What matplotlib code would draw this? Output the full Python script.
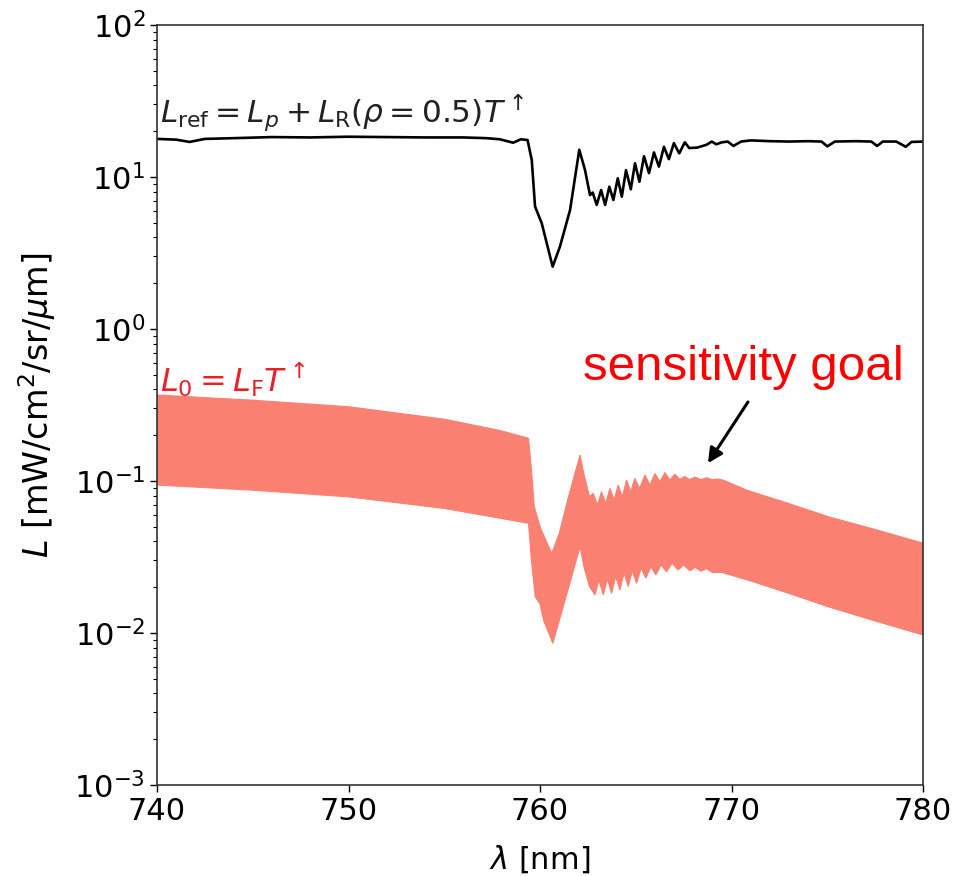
import matplotlib
matplotlib.use("Agg")
import matplotlib.pyplot as plt
import numpy as np

# ---- black line: L_ref ----
wl_ref = [740, 741, 741.7, 742.5, 744, 746, 748, 750, 752, 754, 756, 757.2, 757.9,
          758.6, 759.0, 759.35, 759.57, 759.74, 760.09, 760.66, 761.04, 761.57,
          762.05, 762.35, 762.61, 762.75, 762.96, 763.19, 763.40, 763.62, 763.83,
          764.06, 764.27, 764.49, 764.74, 764.96, 765.19, 765.43, 765.69, 765.95,
          766.21, 766.47, 766.73, 766.99, 767.27, 767.56, 767.79, 768.2, 768.7,
          768.97, 769.2, 769.5, 769.8, 770.1, 770.5, 771.0, 772, 773, 774, 774.7,
          775.0, 775.4, 776.5, 777.3, 777.6, 777.9, 778.6, 779.1, 779.4, 780]
L_ref = [17.8, 17.6, 17.0, 17.8, 18.0, 18.3, 18.2, 18.4, 18.3, 18.2, 18.2, 18.0, 17.7,
         16.8, 17.7, 17.5, 12.9, 6.4, 4.96, 2.57, 3.48, 6.07,
         15.1, 11.1, 7.6, 7.9, 6.55, 8.2, 6.55, 8.63, 7.06,
         9.8, 7.42, 11.1, 8.3, 12.3, 9.3, 13.7, 10.6, 14.5,
         11.7, 15.8, 13.1, 16.7, 14.3, 16.9, 15.5, 15.6, 16.3,
         17.1, 16.4, 16.9, 17.1, 16.0, 17.1, 17.4, 17.2, 17.1, 17.2, 17.1,
         15.9, 17.1, 17.2, 17.1, 16.0, 17.1, 17.1, 15.8, 17.0, 17.1]

# ---- red band: L_0 upper / lower envelopes ----
wl_up = [740, 745, 750, 755, 757.9, 759.4, 759.55, 759.7, 760.0, 760.61, 761.0, 761.5,
         762.09, 762.3, 762.58, 762.78, 763.0, 763.21, 763.43, 763.65, 763.87, 764.08,
         764.30, 764.52, 764.73, 764.95, 765.2, 765.48, 765.74, 766.0, 766.26, 766.52,
         766.78, 767.04, 767.3, 767.56, 767.8, 768.1, 768.4, 768.7, 769.0, 769.3, 769.6,
         770.8, 773, 775.1, 777.5, 780]
L0_up = [0.368, 0.34, 0.308, 0.255, 0.215, 0.191, 0.12, 0.068, 0.05, 0.0334, 0.045, 0.08,
         0.148, 0.11, 0.079, 0.083, 0.0695, 0.085, 0.0713, 0.0895, 0.075, 0.094,
         0.0788, 0.1016, 0.085, 0.104, 0.0895, 0.1095, 0.094, 0.112, 0.099, 0.1135,
         0.1016, 0.1107, 0.1025, 0.107, 0.102, 0.106, 0.102, 0.105, 0.102, 0.103, 0.101,
         0.087, 0.071, 0.058, 0.048, 0.039]

wl_lo = [740, 745, 750, 755, 757.9, 759.4, 759.55, 759.75, 760.0, 760.2, 760.67, 761.0,
         761.5, 762.09, 762.3, 762.58, 762.87, 763.08, 763.30, 763.52, 763.74, 763.95,
         764.17, 764.39, 764.61, 764.82, 765.04, 765.28, 765.53, 765.79, 766.05, 766.32,
         766.60, 766.9, 767.21, 767.5, 767.82, 768.1, 768.4, 768.7, 769.0, 769.5,
         770.8, 773, 775.1, 777.5, 780]
L0_lo = [0.094, 0.087, 0.0786, 0.066, 0.0569, 0.0527, 0.03, 0.0173, 0.0155, 0.012, 0.00855, 0.012,
         0.02, 0.037, 0.027, 0.0202, 0.0178, 0.0223, 0.0178, 0.0226, 0.0182, 0.0235,
         0.0192, 0.0247, 0.0202, 0.0257, 0.0212, 0.0266, 0.0229, 0.0273, 0.0241, 0.028,
         0.0253, 0.0287, 0.026, 0.028, 0.0257, 0.027, 0.0255, 0.0265, 0.025, 0.025,
         0.0224, 0.0182, 0.0148, 0.012, 0.0097]

xticks = [740, 750, 760, 770, 780]

fig = plt.figure(figsize=(9.59, 8.76), dpi=100)
ax = fig.add_axes([0.1637, 0.1039, 0.7988, 0.8676])

poly_x = list(wl_up) + list(wl_lo[::-1])
poly_y = list(L0_up) + list(L0_lo[::-1])
ax.fill(poly_x, poly_y, color='salmon', lw=0.8, ec='salmon')
ax.plot(wl_ref, L_ref, color='black', lw=1.9, solid_joinstyle='round')

ax.set_yscale('log')
ax.set_xlim(740, 780)
ax.set_ylim(1e-3, 1e2)
ax.set_xticks(xticks)
ax.tick_params(axis='both', which='major', labelsize=22, length=5, width=1.0)
ax.tick_params(axis='both', which='minor', length=3, width=0.8)
for s in ax.spines.values():
    s.set_linewidth(1.2)
    s.set_color('#333333')

ax.set_xlabel(r'$\lambda$ [nm]', fontsize=22)
ax.xaxis.set_label_coords(0.5, -0.077)
ax.set_ylabel(r'$L$ [mW/cm$^2$/sr/$\mu$m]', fontsize=24)
ax.yaxis.set_label_coords(-0.129, 0.5)

ax.text(740.15, 23.0, r'$L_{\rm ref} = L_p + L_{\rm R}(\rho = 0.5)T^\uparrow$',
        fontsize=22.5, color='#222222', ha='left', va='baseline')
ax.text(740.15, 0.385, r'$L_0 = L_{\rm F}T^\uparrow$',
        fontsize=23, color='#e8202a', ha='left', va='baseline')

ax.text(770.63, 0.461, 'sensitivity goal', fontsize=35.5, color='red',
        family='Liberation Sans', ha='center', va='baseline')
ax.annotate('', xy=(768.77, 0.131), xytext=(770.86, 0.331),
            arrowprops=dict(arrowstyle='-|>', color='black', lw=2.2,
                            mutation_scale=22, shrinkA=0, shrinkB=0))

fig.savefig('out.png', dpi=100)
